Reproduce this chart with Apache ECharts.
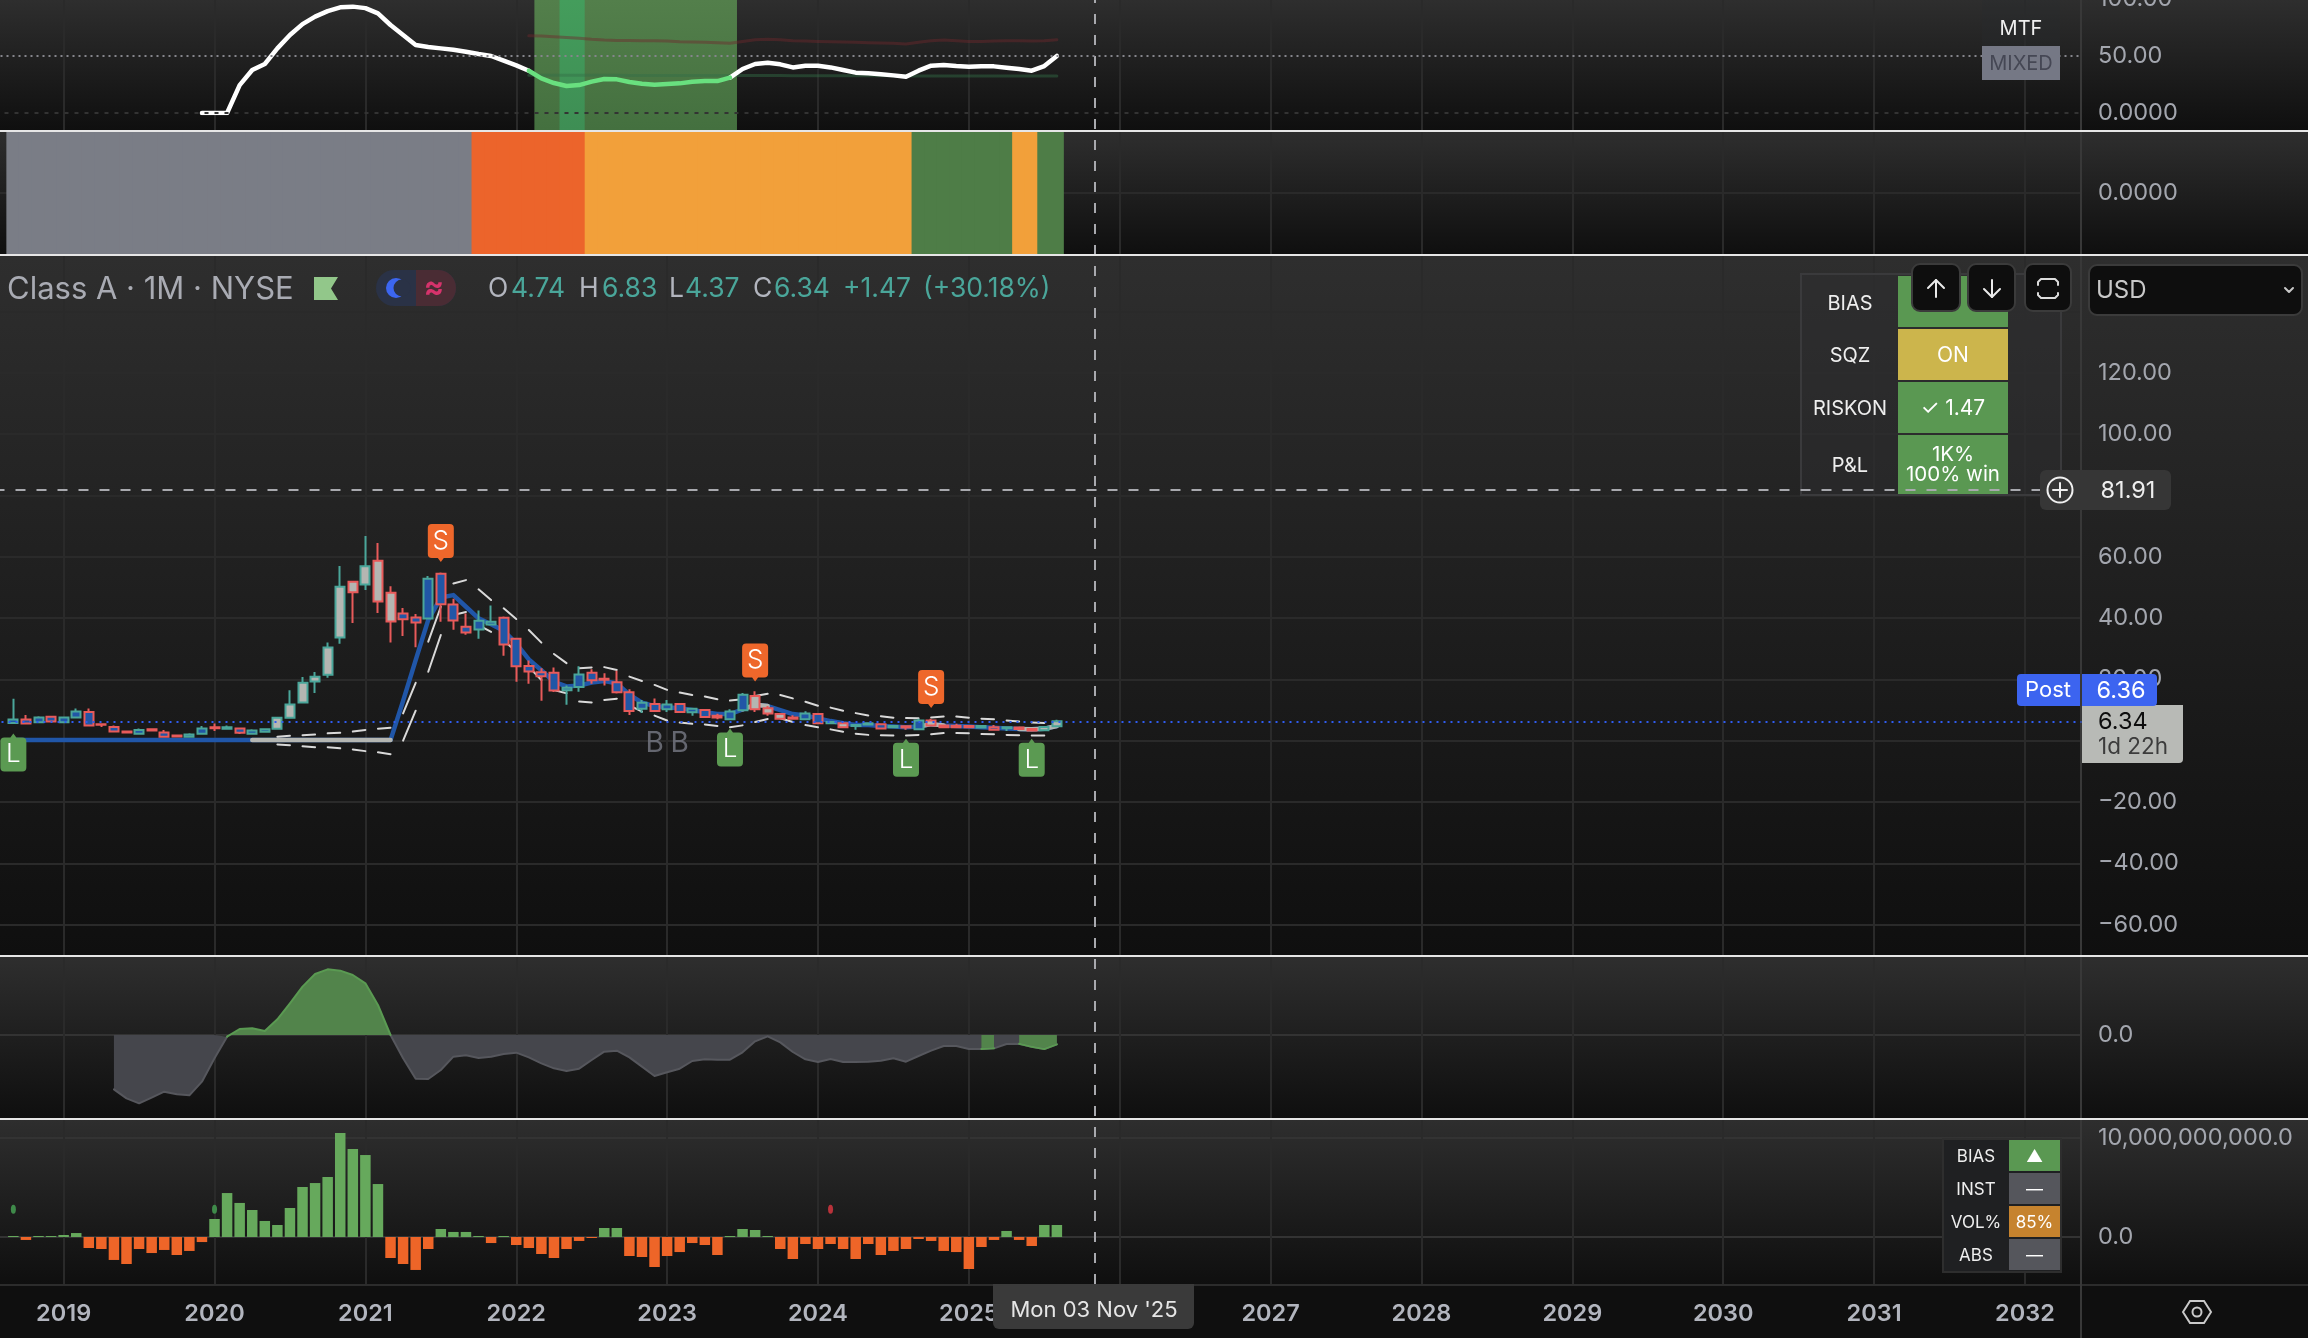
<!DOCTYPE html>
<html><head><meta charset="utf-8">
<style>html,body{margin:0;padding:0;background:#0e0e0e}#c{width:2308px;height:1338px}</style>
<script src="https://cdn.jsdelivr.net/npm/echarts@6/dist/echarts.min.js"></script>
</head><body><div id="c"></div>
<script>
// ---------- categories: one per month, Aug 2018 .. May 2032 ----------
const months = [];
for (let y = 2018, m = 8; months.length < 166; m++) {
  if (m > 12) { m = 1; y++; }
  months.push(y + '-' + String(m).padStart(2, '0'));
}
const FIRST = 1; // index of 2018-09, where all the series begin

// ---------- candles: [open, close, low, high], 2018-09 .. 2025-08 ----------
const candles = [
[5.8,6.9,5.5,13.7],[6.9,5.6,5.5,8.4],[6,7.6,5.9,8],[7.8,6.3,5.9,7.9],[6,7.6,5.8,7.9],[7.6,9.5,7.3,10.5],[9.4,5,5,10.5],
[5.4,5.2,4.5,5.6],[4.5,3,2.9,5],[3,2.7,2.6,3.1],[2.3,3.5,2.2,4],[3.7,3.3,3.2,3.8],[2.7,1.3,1.2,3.5],[1.7,1.4,1.3,1.8],
[1.3,2.05,1.2,2.4],[2.3,4,2.2,4.8],[4.4,4.1,3.2,5.6],[3.9,4.4,3.8,5],[4,2.6,2.2,4.1],[2.3,3.3,2.2,3.7],[2.9,3.7,2.8,4.1],
[3.9,7.5,3.8,7.6],[7.5,11.8,7.4,16.5],[12.5,18.9,12.4,20.75],[19.3,20.9,15.6,22.4],[21.5,30.4,20.5,32],[33.7,50.2,31.6,57],
[51.9,48.4,38.4,51.9],[51,56.9,49.2,66.75],[58.7,45.4,41.7,64.5],[48.3,38.9,32,50.4],[41.5,39.6,34.2,43.3],[40.2,38.6,30.5,41.3],
[39.9,52.8,39.8,53.7],[54.5,44.5,38.8,54.9],[44.4,39.2,36.2,46.3],[37.2,35.3,34.6,41.5],[36.3,39.1,33.3,42.5],[37.9,38.8,37.8,44.1],
[40.1,31.4,27.7,40.5],[33.3,24.3,19.2,33.6],[24.4,22.6,18.6,26.2],[22.3,21,13,23.6],[22.2,16.4,15.9,23.9],
[16.5,17.3,11.7,18],[17.5,21.6,16,24.3],[22.2,19.7,18.6,23.3],[20.2,19.9,18,22],[19.1,15.8,15.4,22.8],[15.8,9.7,8.4,16.8],
[10.4,12.4,9,13.3],[12,9.7,9.5,13.8],[10.25,11.8,9.4,13.3],[12,9.4,9.2,12.1],[9.3,10.4,8.1,10.7],[10,7.75,7.5,10.1],[8.1,7.6,7,8.8],
[7,9.5,6.8,10.25],[9.9,15,9.6,15.6],[14.6,10.25,9.4,16.1],[10.6,8.85,8.1,11.3],[8.7,7.2,6.8,8.8],[7.6,7.2,7.1,8.3],[7,8.85,6.8,9.6],
[8.7,5.7,5.6,8.8],[5.7,6.1,5.6,6.2],[5.7,4.4,4.3,6.3],[4.8,5.1,3.6,5.2],[5.25,5.7,5.1,5.8],[5.4,4,3.9,5.7],[4.4,4.8,4.2,5.1],
[4.7,4.3,3.6,4.8],[3.7,6.6,3.6,7.2],[6.6,5,5,7.2],[5,4.4,4.3,5.1],[4.9,4.4,4.3,5.5],[4.8,4.4,4.3,4.9],[4.3,4.8,4.2,4.9],
[4.4,3.6,3.6,5.1],[4.05,4.4,3.2,4.5],[4.3,3.8,3.7,4.4],[3.8,3.3,3.2,3.9],[3.4,4.5,3.3,4.6],[4.74,6.34,4.37,6.83]];
const grayCandleMonths = ['2020-06','2020-07','2020-08','2020-09','2020-10','2020-11','2020-12','2021-01','2021-02','2021-03',
  '2023-08','2023-09','2023-10','2024-03','2024-10','2025-07','2025-08'];

// ---------- trend line (thick), 2018-09 .. 2025-08 ----------
const trend = [
.2,.2,.2,.2,.2,.2,.2,.2,.2,.2,.2,.2,.2,.2,.2,.2,.2,.2,.2,.2,.2,.2,.2,.2,.2,.2,.2,.2,.2,.2,.2,
13,26.3,39.4,46.7,47.5,43.7,39.9,38,35.9,31.7,26.5,23,19.2,
17.7,18,19,19.5,18.7,15,12.4,11.3,10.9,10.6,10,9.3,8.7,8.7,10.25,11.7,11.3,10,8.7,8.2,7.3,6.4,5.7,5.1,5.1,4.8,4.6,4.4,4.6,5.4,5,4.8,4.6,4.4,4.2,4,3.8,3.7,3.9,4.8];
const trendGrayRanges = [['2020-04','2021-03'],['2023-07','2023-09'],['2024-09','2024-11'],['2025-05','2025-08']];

// ---------- dashed envelope, 2020-06 .. 2025-07 ----------
const ENV_START = '2020-06';
const envUpper = [1.3,1.6,1.8,2,2.4,2.6,3,3.5,3.9,4.2,8.9,18.9,32.3,43.7,51.3,52.4,49.4,45.9,43.2,39.7,36.1,32,28.3,
25.3,23.6,23.9,24,23.1,20.9,19.5,18.2,16.6,15.7,14.9,14.4,13.5,13.1,13.5,14.6,15.3,14.9,13.8,12.7,11.4,10.8,9.8,9,8.2,8,7.5,7.4,7.3,7.6,7.9,7.9,7.5,7.2,7,6.6,6.3,5.9,5.8];
const envLower = [-1.2,-1.5,-1.8,-2.1,-2.1,-2.5,-2.85,-3.4,-3.8,-4.4,0,9.8,22.5,34.5,41,42,37.7,35.5,32.8,29,24.1,19.8,16.5,
15.5,12.8,12.5,13.3,13.7,11.5,9.5,8.2,6.6,5.9,5.5,5.3,4.8,4.4,5,6.1,7.1,7.3,6.1,5.1,4.4,3.7,2.9,2.3,1.9,1.8,1.7,1.7,1.9,2.1,2.5,2.5,2.4,2.2,2.1,1.9,1.8,1.7,1.7];

// ---------- signals on the price pane ----------
const sellMonths = ['2021-07','2023-08','2024-10'], sellLevels = [64.5,25.5,16.9];
const buyMonths = ['2018-09','2023-06','2024-08','2025-06'], buyLevels = [-3.85,-2.2,-5.6,-5.6];
const bMonths = ['2022-12','2023-02'], bLevels = [-0.8,-0.8];
const lastClose = 6.34, crossPrice = 81.91, crossMonth = '2025-11';

// ---------- strength pane (top) ----------
const MTF_START = '2019-12';
const mtf = [0,0,0,24.5,37.7,43,56.7,68.4,78,84.5,89.4,92.7,93.3,92,87.4,77.2,68.4,59.6,57.9,56.7,55.5,53.8,51.7,50,45.9,41.8,37.1,
30.4,26.3,23.7,24.5,27.5,29.8,29.5,27.2,25.7,24.8,25.4,26,27.5,28,28,31,38.6,43,44.1,42.7,40,41.5,41.5,40,37.7,35.4,34.8,33.9,33,31.8,37.1,41.5,42.1,41.2,40.6,40.9,40.9,39.7,38.6,37.1,41.2,50];
const mtfGreenRange = ['2022-02','2023-06'];
const FAINT_START = '2022-02';
const faintRed = [67.8,67.5,66.9,66.3,65.5,64.6,64,63.7,63.7,63.4,63.4,63.1,62.5,62.3,62,61.7,61.1,62.8,64.3,64.6,64.3,63.4,63.1,62.8,62.5,62.3,62,61.7,61.4,61.1,60.5,62,63.4,64,63.4,62.8,62.8,63.1,63.4,63.4,63.1,63.4,64.3];
const faintGreen = [33.2,33.2,33.2,33.2,33.2,33.1,33.1,33.1,33,33,33,33,33,33,32.9,32.9,32.8,32.8,32.8,32.8,32.8,32.7,32.7,32.7,32.7,32.6,32.6,32.6,32.6,32.6,32.5,32.5,32.5,32.5,32.5,32.5,32.5,32.4,32.4,32.4,32.4,32.4,32.4];
const bandMonths = ['2022-03','2022-04','2022-05','2022-06','2022-07','2022-08','2022-09','2022-10','2022-11','2022-12','2023-01','2023-02','2023-03','2023-04','2023-05','2023-06'];
const bandBright = ['2022-05','2022-06'];
const tickMonths = ['2022-05','2022-06','2022-08','2022-10','2022-11','2022-12','2023-01','2023-02','2023-03','2023-04','2023-05'];

// ---------- regime strip ----------
const regimeSpans = [['gray','2018-09','2021-09'],['red','2021-10','2022-06'],['amber','2022-07','2024-08'],['green','2024-09','2025-04'],['amber','2025-05','2025-06'],['green','2025-07','2025-08']];
const regimeColors = {gray:'#7a7d86',red:'#ec642b',amber:'#f2a03a',green:'#4e7d47'};

// ---------- oscillator, 2019-05 .. 2025-08 ----------
const OSC_START = '2019-05';
const osc = [-163,-190,-205,-188,-170,-178,-181,-140,-70,-5,18,20,12,47,95,145,183,197,193,180,155,90,0,
-70,-131,-132,-105,-65,-61,-69,-65,-57,-53,-67,-85,-100,-108,-101,-75,-50,-47,-67,-95,-123,-112,-101,-78,-73,-74,-74,-52,-19,-4,-22,-51,-73,-81,-72,-81,-81,-80,-77,-70,-80,-63,-47,-33,-33,-42,-42,-40,-27,-26,-35,-42,-28];
const oscGreenExtra = ['2020-02','2025-02','2025-03','2025-05','2025-06','2025-07','2025-08'];

// ---------- volume delta, billions, 2018-09 .. 2025-08 ----------
const delta = [.1,-.3,.1,.1,.2,.4,-1.11,-1.21,-2.32,-2.73,-1.21,-1.62,-1.31,-1.82,-1.41,-.51,
1.82,4.44,3.44,2.73,1.62,1.21,2.93,5.05,5.45,6.06,10.5,8.89,8.28,5.35,
-2.12,-2.73,-3.33,-1.21,.81,.51,.51,.1,-.61,.1,-.81,-1.11,-1.72,-2.12,-1.21,-.4,-.1,.91,.91,
-1.92,-2.02,-3.03,-1.92,-1.52,-.61,-.81,-1.82,.1,.81,.71,.1,-1.21,-2.22,-.71,-1.21,-.71,-1.21,-2.22,-.71,-1.82,-1.41,-1.21,-.2,-.4,-1.41,-1.52,-3.23,-1.01,-.3,.61,-.3,-.91,1.21,1.21];
const dotGreenMonths = ['2018-09','2020-01'], dotRedMonths = ['2024-02'], dotLevel = 2.8;

// ---------- tick labels ----------
const priceTicksHidden = [140];
const GRID = '#2a2a2a', AXTXT = '#a3a6ae', FONT = 'Inter';
const TEAL = '#4aa69a', RED = '#e85a5a', BLUEF = '#2156a6', GRAYF = '#b4b6b2';
const at = m => months.indexOf(m);
const from = (start, arr) => Array(start).fill(null).concat(arr);
const span = (a, b) => months.map((m, i) => i >= at(a) && i <= at(b));

const GL = -5.5, GW = 2087;
const grids = [
  {top:0,height:1284},        // 0 frame, year axis
  {top:-1,height:114},        // 1 strength
  {top:0,height:130},         // 2 strength bands
  {top:132,height:122},       // 3 regime
  {top:311.6,height:613},     // 4 price
  {top:952,height:166},       // 5 oscillator
  {top:1088.5,height:198}     // 6 delta
].map(g => Object.assign(g, {left:GL, width:GW, outerBoundsMode:'none', containLabel:false}));
const xAxes = grids.map((g, i) => ({
  type:'category', gridIndex:i, data:months, boundaryGap:true,
  axisLine:{show:false}, axisTick:{show:false},
  axisLabel: i === 0 ? {show:true, interval:(k, v) => v.endsWith('-01'), formatter:v => v.slice(0,4), color:'#b2b5be', fontFamily:FONT, fontWeight:600, fontSize:23.5, margin:18} : {show:false},
  splitLine: i === 0 ? {show:true, alignWithLabel:true, interval:(k, v) => v.endsWith('-01'), lineStyle:{color:GRID, width:2}} : {show:false}
}));
const lab = (fmt) => ({show:true, color:AXTXT, fontFamily:FONT, fontSize:23.5, margin:16.5, align:'left', padding:[6,0,0,0], formatter:fmt});
const yAxes = [
  {gridIndex:0, type:'value', show:false, min:0, max:1},
  {gridIndex:1, type:'value', position:'right', min:0, max:100, interval:50, axisLine:{show:false}, axisTick:{show:false},
   axisLabel:lab(v => v === 0 ? '0.0000' : v.toFixed(2)), splitLine:{show:false}},
  {gridIndex:2, type:'value', show:false, min:0, max:1},
  {gridIndex:3, type:'value', position:'right', min:-1, max:1, interval:1, axisLine:{show:false}, axisTick:{show:false},
   axisLabel:lab(v => v === 0 ? '0.0000' : ''), splitLine:{show:true, lineStyle:{color:['transparent',GRID,'transparent'], width:2}}},
  {gridIndex:4, type:'value', position:'right', min:-60, max:140, interval:20, axisLine:{show:false}, axisTick:{show:false},
   axisLabel:lab(v => priceTicksHidden.includes(v) ? '' : (v < 0 ? '\u2212' + (-v).toFixed(2) : v.toFixed(2))),
   splitLine:{show:true, lineStyle:{color:GRID, width:2}}},
  {gridIndex:5, type:'value', position:'right', min:-249, max:249, interval:249, axisLine:{show:false}, axisTick:{show:false},
   axisLabel:lab(v => v === 0 ? '0.0' : ''), splitLine:{show:true, lineStyle:{color:['transparent','#333','transparent'], width:2}}},
  {gridIndex:6, type:'value', position:'right', min:-5, max:15, interval:5, axisLine:{show:false}, axisTick:{show:false},
   axisLabel:lab(v => v === 0 ? '0.0' : v === 10 ? '10,000,000,000.0' : ''),
   splitLine:{show:true, lineStyle:{color:['transparent','#333','transparent','#333','transparent'], width:2}}}
];

const axes = i => ({xAxisIndex:i, yAxisIndex:i});
const lineS = (i, data, color, width, extra) => Object.assign({type:'line', ...axes(i), data, showSymbol:false, symbol:'none', silent:true, connectNulls:false,
  lineStyle:{color, width, cap:'round', join:'round'}}, extra || {});
// pieces on/off month by month, from an odd month on
const dashed = (startM, arr) => { const s = at(startM), out = [];
  for (let i = 0; i + 1 < arr.length; i += 2) { out.push([s+i,arr[i]],[s+i+1,arr[i+1]],[s+i+1,null]); }
  return out; };
const pinS = 'path://M4,0H22A4,4 0 0 1 26,4V30A4,4 0 0 1 22,34H16L13,38L10,34H4A4,4 0 0 1 0,30V4A4,4 0 0 1 4,0Z';
const pinL = 'path://M10,4L13,0L16,4H22A4,4 0 0 1 26,8V34A4,4 0 0 1 22,38H4A4,4 0 0 1 0,34V8A4,4 0 0 1 4,4Z';
const vgrad = (a,b) => ({type:'linear',x:0,y:0,x2:0,y2:1,colorStops:[{offset:0,color:a},{offset:1,color:b}]});

const series = [];
// frame + vertical crosshair
series.push(lineS(0, months.map(() => null), 'transparent', 0, {z:5, markLine:{silent:true, symbol:'none', animation:false, label:{show:false},
  lineStyle:{color:'#a8a9ae', width:2, type:[10,11]}, data:[{xAxis:crossMonth}]}}));
// strength bands
series.push({type:'bar', ...axes(2), barWidth:14, silent:true, z:1,
  data:months.map(m => bandMonths.includes(m) ? {value:1, itemStyle:{color: bandBright.includes(m) ? vgrad('#449d5c','#3e8e54') : vgrad('#537f4b','#44703f')}} : null)});
// strength lines
series.push(lineS(1, from(at(FAINT_START), faintRed), 'rgba(110,40,44,.45)', 3));
series.push(lineS(1, from(at(FAINT_START), faintGreen), 'rgba(50,110,70,.45)', 3));
const mtfIdx = at(MTF_START), mtfAll = from(mtfIdx, mtf);
const greenOn = span(mtfGreenRange[0], mtfGreenRange[1]);
series.push(lineS(1, mtfAll.map((v,i) => (greenOn[i] && i !== at(mtfGreenRange[0]) && i !== at(mtfGreenRange[1])) ? null : v), '#ffffff', 4.5,
  {markLine:{silent:true, symbol:'none', animation:false, label:{show:false}, data:[
    {yAxis:50, lineStyle:{color:'#85858c', width:2, type:[2,4]}},
    {yAxis:0, lineStyle:{color:'#333333', width:2, type:[4,6]}}]}}));
series.push(lineS(1, mtfAll.map((v,i) => greenOn[i] ? v : null), '#69e07f', 4.5));
series.push({type:'scatter', ...axes(1), silent:true, symbol:'rect', symbolSize:[3,10], itemStyle:{color:'rgba(110,200,125,.55)', opacity:1},
  data:tickMonths.map(m => [m,-1])});
// regime strip
const regimeOf = months.map(m => { const s = regimeSpans.find(r => at(m) >= at(r[1]) && at(m) <= at(r[2])); return s ? s[0] : null; });
[1,-1].forEach(sign => series.push({type:'bar', ...axes(3), barWidth:14, barGap:'-100%', silent:true,
  data:regimeOf.map(r => r ? {value:sign, itemStyle:{color:regimeColors[r]}} : null)}));
// price pane
const trendAll = from(FIRST, trend);
series.push(lineS(4, trendAll, '#2056a8', 4.5, {z:2}));
trendGrayRanges.forEach(r => { const on = span(r[0], r[1]);
  series.push(lineS(4, trendAll.map((v,i) => on[i] ? v : null), '#b4b6b2', 4.5, {z:2})); });
series.push(lineS(4, dashed(ENV_START, envUpper), '#d9d9d9', 2, {z:2}));
series.push(lineS(4, dashed(ENV_START, envLower), '#d9d9d9', 2, {z:2}));
series.push({type:'candlestick', ...axes(4), silent:true, barWidth:9.5, z:3,
  data:[['-','-','-','-']].concat(candles.map((c,i) => { const up = c[1] >= c[0], col = up ? TEAL : RED,
    fill = grayCandleMonths.includes(months[i+FIRST]) ? GRAYF : BLUEF;
    return {value:c, itemStyle:{color:fill, color0:fill, borderColor:col, borderColor0:col, borderColorDoji:col, borderWidth:2}}; })),
  markLine:{silent:true, symbol:'none', animation:false, label:{show:false}, data:[
    {yAxis:lastClose, lineStyle:{color:'#2f5cf0', width:2, type:[2,5]}},
    {yAxis:crossPrice, lineStyle:{color:'#a8a9ae', width:2, type:[10,11]}}]}});
const pins = (ms, ls, sym, col, txt, dy) => ({type:'scatter', ...axes(4), silent:true, z:4, symbol:sym, symbolSize:[26,38],
  itemStyle:{color:col, opacity:1}, label:{show:true, position:'inside', offset:[0,dy], formatter:txt, color:'#fff', fontFamily:FONT, fontWeight:300, fontSize:26},
  data:ms.map((m,i) => [m, ls[i]])});
series.push(pins(sellMonths, sellLevels, pinS, '#ee672b', 'S', -2));
series.push(pins(buyMonths, buyLevels, pinL, '#5b9a52', 'L', 2));
series.push({type:'scatter', ...axes(4), silent:true, z:4, symbolSize:0, label:{show:true, position:'inside', formatter:'B', color:'#787b86', fontFamily:FONT, fontSize:28},
  data:bMonths.map((m,i) => [m, bLevels[i]])});
// oscillator
const oscAll = from(at(OSC_START), osc);
series.push(lineS(5, oscAll.map(v => v !== null && v <= 0 ? v : null), '#56575d', 2, {areaStyle:{color:'#45464c', opacity:1}}));
series.push(lineS(5, oscAll.map((v,i) => v !== null && (v >= 0 || oscGreenExtra.includes(months[i])) ? v : null), '#5a9a52', 2, {areaStyle:{color:'#52844b', opacity:1}}));
// delta
series.push({type:'bar', ...axes(6), barWidth:10.5, silent:true,
  data:from(FIRST, delta).map(v => v === null ? null : {value:v, itemStyle:{color: v >= 0 ? '#66a95c' : '#ee6528'}})});
const dots = (ms, col) => ({type:'scatter', ...axes(6), silent:true, symbol:'circle', symbolSize:[5,9], itemStyle:{color:col, opacity:1}, data:ms.map(m => [m, dotLevel])});
series.push(dots(dotGreenMonths, '#3f8a4a'), dots(dotRedMonths, '#b8323a'));

// ---------- chrome ----------
const R = (x,y,w,h,fill,z,r,stroke) => ({type:'rect', silent:true, z:z, shape:{x,y,width:w,height:h,r:r||0}, style:{fill, stroke:stroke||null, lineWidth:stroke?2:0}});
const T = (text,x,y,fill,size,align,weight,z) => ({type:'text', silent:true, z:z||20, x, y:y+1.5, style:{text, fill, fontFamily:FONT, fontSize:size, fontWeight:weight||400, align:align||'left', verticalAlign:'middle'}});
const L = (pts,stroke,w,z) => ({type:'polyline', silent:true, z:z||20, shape:{points:pts}, style:{stroke, lineWidth:w, fill:null, lineCap:'round', lineJoin:'round'}});
const C = (cx,cy,r,fill,stroke,w,z) => ({type:'circle', silent:true, z:z||20, shape:{cx,cy,r}, style:{fill:fill||null, stroke:stroke||null, lineWidth:w||0}});
const panes = [[0,130],[132,122],[256,699],[957,161],[1120,164]];
const gfx = [];
panes.forEach(p => gfx.push(R(0,p[0],2308,p[1],vgrad('#2e2e2e','#0f0f0f'),-1)));
gfx.push(R(0,1286,2308,52,'#0f0f0f',-1));
gfx.push(R(0,1284,2308,2,'#2c2c2c',1));
gfx.push(R(2080,0,2,1338,'#383838',1));
[130,254,955,1118].forEach(y => gfx.push(R(0,y,2308,2,'#e6e6e6',6)));
// MTF badge
gfx.push(R(1982,0,78,46,'rgba(40,42,46,.35)',7));
gfx.push(T('MTF',2021,27,'#f0f0f0',20,'center'));
gfx.push(R(1982,46,78,34,'#757885',7));
gfx.push(T('MIXED',2021,62,'#454754',20,'center'));
// header
gfx.push(T('Class A \u00b7 1M \u00b7 NYSE',7,288,'#a9abb3',31));
gfx.push({type:'polygon', silent:true, z:20, shape:{points:[[314,277],[338,277],[331,288.5],[338,300],[314,300]]}, style:{fill:'#92c78a'}});
gfx.push(R(376,270,80,36,'#2a3246',8,18));
gfx.push(R(416,270,40,36,'#4a2c34',9,[0,18,18,0]));
gfx.push(C(396,288,10,'#3c66f0',null,0,10), C(402,288,8.5,'#2a3246',null,0,11));
gfx.push(T('\u2248',434,286,'#d6336c',30,'center',700));
[['O',488,'#b2b5be'],['4.74',511,TEAL],['H',579,'#b2b5be'],['6.83',602,TEAL],['L',669,'#b2b5be'],['4.37',685,TEAL],['C',753,'#b2b5be'],['6.34',774,TEAL],['+1.47',843,TEAL],['(+30.18%)',923,TEAL]]
  .forEach(t => gfx.push(T(t[0],t[1],288,t[2],26.5)));
// status table
gfx.push(R(1801,274,260,221,'rgba(46,46,48,.45)',3,0,'#3a3a3c'));
[[276,51,'BIAS','#5a9852',''],[329,51,'SQZ','#ccb54c','ON'],[382,51,'RISKON','#5a9852','\u2713 1.47'],[435,59,'P&L','#5a9852','']].forEach(r => {
  gfx.push(R(1898,r[0],110,r[1],r[3],4));
  gfx.push(T(r[2],1850,r[0]+r[1]/2+(r[2]==='BIAS'?1:0),'#eeeeee',20,'center',400,6));
  if (r[4]) gfx.push(T(r[4],1953,r[0]+r[1]/2,'#ffffff',21,'center',400,6));
});
gfx.push(T('1K%',1953,453,'#ffffff',20.5,'center',400,6), T('100% win',1953,473,'#ffffff',20.5,'center',400,6));
// buttons
[[1912,48],[1968,47],[2025,46]].forEach(b => gfx.push(R(b[0],264,b[1],47,'#0e0e0e',14,8,'#3b3b3b')));
gfx.push(L([[1936,297],[1936,280]],'#eaeaea',2,15), L([[1928,288],[1936,280],[1944,288]],'#eaeaea',2,15));
gfx.push(L([[1992,280],[1992,297]],'#eaeaea',2,15), L([[1984,289],[1992,297],[2000,289]],'#eaeaea',2,15));
gfx.push(L([[2038,285],[2038,282],[2041,279],[2055,279],[2058,282],[2058,285]],'#dcdcdc',2,15), L([[2038,293],[2038,295],[2041,298],[2055,298],[2058,295],[2058,293]],'#dcdcdc',2,15));
gfx.push(R(2089,265,213,50,'#0e0e0e',14,8,'#3b3b3b'));
gfx.push(T('USD',2096,289,'#c8c8c8',24,'left',400,15));
gfx.push(L([[2285,288],[2289,292],[2293,288]],'#c8c8c8',2,15));
// crosshair price tag
gfx.push(R(2040,470,131,40,'#363636',16,6));
gfx.push(C(2060,490,12.5,null,'#f0f0f0',2,17));
gfx.push(L([[2053,490],[2067,490]],'#f0f0f0',2,17), L([[2060,483],[2060,497]],'#f0f0f0',2,17));
gfx.push(T('81.91',2128,489,'#eeeeee',23.5,'center'));
// post / close tags
gfx.push(R(2017,674,140,32,'#3c64f0',16,4));
gfx.push(R(2080,674,2,32,'#383838',17));
gfx.push(T('Post',2048,689,'#ffffff',22,'center'), T('6.36',2121,689,'#ffffff',23.5,'center'));
gfx.push(R(2082,705,101,58,'#b8bab6',15,[0,0,4,0]));
gfx.push(T('6.34',2098,720,'#0e0e0e',23.5), T('1d 22h',2098,746,'#3c3c3c',22.5));
// mini table
gfx.push(R(1943,1139,118,133,'#1f2022',7,0,'#2e2e2e'));
[[1140,'BIAS','#5a9852','\u25b2'],[1173,'INST','#55565c','\u2014'],[1206,'VOL%','#c6832e','85%'],[1239,'ABS','#55565c','\u2014']].forEach(r => {
  gfx.push(R(2009,r[0],51,31,r[2],8));
  gfx.push(T(r[1],1976,r[0]+15,'#eeeeee',17,'center'));
  gfx.push(T(r[3],2034.5,r[0]+15,'#ffffff',17,'center'));
});
// date tag + settings icon
gfx.push(R(993,1284,201,45,'#3a3a3a',16,[0,0,6,6]));
gfx.push(T("Mon 03 Nov '25",1094,1309,'#e6e6e6',22,'center'));
gfx.push({type:'polygon', silent:true, z:20, shape:{points:[[2183,1312],[2190,1301],[2204,1301],[2211,1312],[2204,1323],[2190,1323]]}, style:{fill:null, stroke:'#c9c9c9', lineWidth:2}});
gfx.push(C(2197,1312,4.5,null,'#c9c9c9',2,20));

const chart = echarts.init(document.getElementById('c'), null, {width:2308, height:1338, renderer:'canvas'});
chart.setOption({animation:false, backgroundColor:'#0e0e0e', grid:grids, xAxis:xAxes, yAxis:yAxes, series, graphic:{elements:gfx}});
</script></body></html>
